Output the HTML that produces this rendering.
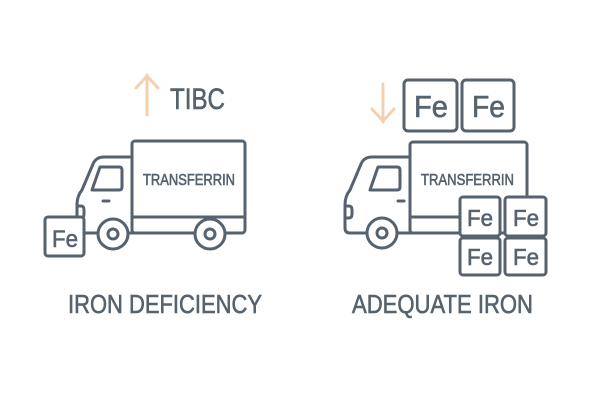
<!DOCTYPE html>
<html><head><style>html,body{margin:0;padding:0;background:#fff}svg{display:block}</style></head>
<body>
<svg width="600" height="400" viewBox="0 0 600 400" xmlns="http://www.w3.org/2000/svg">
<g fill="none" stroke="#56626d" stroke-width="3" stroke-linecap="round" stroke-linejoin="round">
  <rect x="132" y="141" width="113" height="92" rx="3"/>
  <line x1="132" y1="217" x2="245" y2="217"/>
  <path d="M132,157 H104 Q96,157 93,164 L82,190 Q77,196 77,205 V228 Q77,233 82,233 H98"/>
  <line x1="128" y1="233" x2="195" y2="233"/>
  <path d="M92,190 L100,167 H119 Q122,167 122,170 V187 Q122,190 119,190 Z"/>
  <path d="M77,206 H81 Q84,206 84,210 V214 Q84,218 81,218 H77"/>
  <line x1="103" y1="201" x2="109" y2="201"/>
  <circle cx="113" cy="234" r="15" fill="#fff"/>
  <circle cx="113" cy="234" r="5"/>
  <circle cx="210" cy="234" r="15" fill="#fff"/>
  <circle cx="210" cy="234" r="5"/>
  <rect x="45" y="217" width="39" height="39" rx="3" fill="#fff"/>

  <rect x="410" y="142" width="117" height="91" rx="3"/>
  <line x1="410" y1="217" x2="460" y2="217"/>
  <path d="M410,157 H372 Q364,157 361,164 L350,190 Q345,196 345,205 V228 Q345,233 350,233 H367"/>
  <line x1="397" y1="233" x2="460" y2="233"/>
  <path d="M370,190 L378,167 H397 Q400,167 400,170 V187 Q400,190 397,190 Z"/>
  <path d="M345,206 H349 Q352,206 352,210 V214 Q352,218 349,218 H345"/>
  <line x1="398" y1="201" x2="404" y2="201"/>
  <circle cx="382" cy="233" r="15" fill="#fff"/>
  <circle cx="382" cy="233" r="5"/>
  <rect x="404" y="80" width="53" height="51" rx="4" fill="#fff"/>
  <rect x="462" y="80" width="52" height="51" rx="4" fill="#fff"/>
  <rect x="460" y="197" width="40" height="39" rx="3" fill="#fff"/>
  <rect x="505" y="197" width="41" height="39" rx="3" fill="#fff"/>
  <rect x="460" y="238" width="40" height="37" rx="3" fill="#fff"/>
  <rect x="505" y="238" width="41" height="37" rx="3" fill="#fff"/>
</g>
<g fill="none" stroke="#f5d0b0" stroke-width="3" stroke-linecap="round" stroke-linejoin="round">
  <line x1="147" y1="75" x2="147" y2="115"/>
  <path d="M136,88 L147,76 L158,88"/>
  <line x1="383" y1="84" x2="383" y2="122"/>
  <path d="M372,109 L383,121 L394,109"/>
</g>
<g fill="#56626d" stroke="#56626d" stroke-width="0.6" font-family="'Liberation Sans', sans-serif">
  <text x="170" y="109" font-size="30" textLength="55" lengthAdjust="spacingAndGlyphs">TIBC</text>
  <text x="143" y="185" font-size="16" textLength="92" lengthAdjust="spacingAndGlyphs">TRANSFERRIN</text>
  <text x="421" y="185" font-size="16" textLength="93" lengthAdjust="spacingAndGlyphs">TRANSFERRIN</text>
  <text x="52" y="247" font-size="24" textLength="26" lengthAdjust="spacingAndGlyphs">Fe</text>
  <text x="414" y="117" font-size="31" textLength="34" lengthAdjust="spacingAndGlyphs">Fe</text>
  <text x="472" y="117" font-size="31" textLength="33" lengthAdjust="spacingAndGlyphs">Fe</text>
  <text x="467" y="226" font-size="23" textLength="26" lengthAdjust="spacingAndGlyphs">Fe</text>
  <text x="513" y="226" font-size="23" textLength="26" lengthAdjust="spacingAndGlyphs">Fe</text>
  <text x="467" y="265" font-size="23" textLength="26" lengthAdjust="spacingAndGlyphs">Fe</text>
  <text x="513" y="265" font-size="23" textLength="26" lengthAdjust="spacingAndGlyphs">Fe</text>
  <text x="68" y="313" font-size="26" textLength="194" lengthAdjust="spacingAndGlyphs">IRON DEFICIENCY</text>
  <text x="352" y="313" font-size="26" textLength="181" lengthAdjust="spacingAndGlyphs">ADEQUATE IRON</text>
</g>
</svg>
</body></html>
